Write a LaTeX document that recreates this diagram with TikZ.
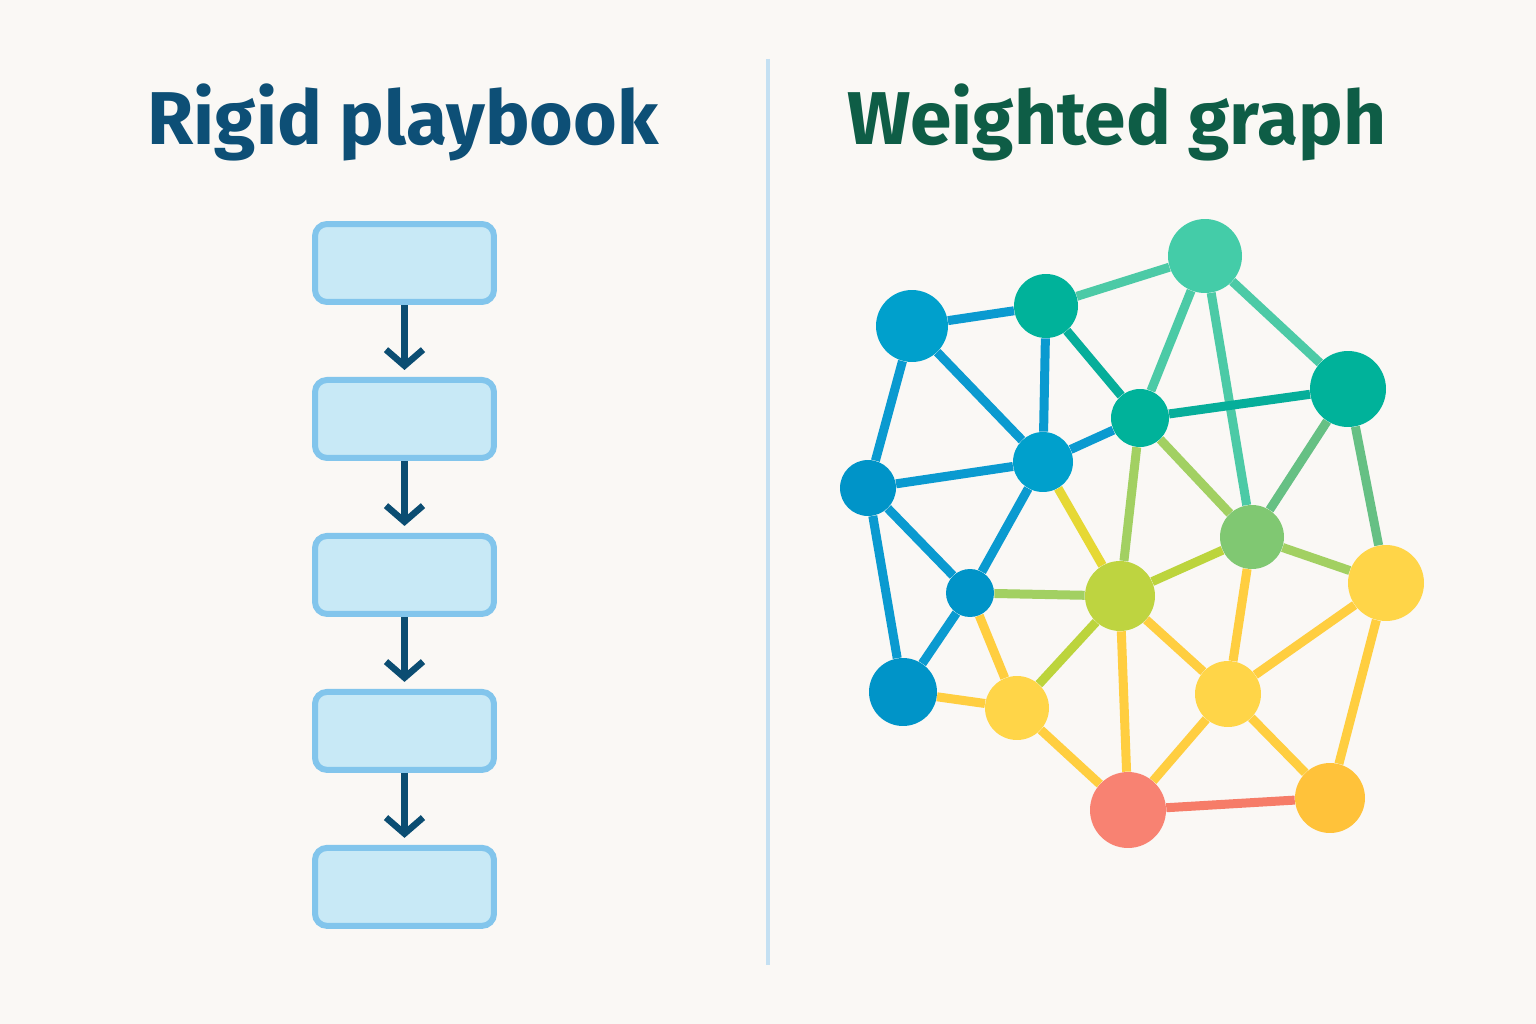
\documentclass[tikz,border=0pt]{standalone}
\usepackage{fontspec}
\setsansfont{Fira Sans}
\usetikzlibrary{positioning,arrows.meta}
\definecolor{bg}{HTML}{FAF8F5}
\definecolor{boxfill}{HTML}{C8E9F6}
\definecolor{boxline}{HTML}{82C5EC}
\definecolor{arrowblue}{HTML}{0B4D72}
\definecolor{divider}{HTML}{C4E0F2}
\definecolor{titleblue}{HTML}{0D4F76}
\definecolor{titlegreen}{HTML}{0E5D46}
% node fills
\definecolor{nblue}{HTML}{00A0CC}
\definecolor{ndblue}{HTML}{0094C8}
\definecolor{nteal}{HTML}{00B29A}
\definecolor{nmint}{HTML}{44CCA8}
\definecolor{ngreen}{HTML}{80C872}
\definecolor{nlime}{HTML}{BED440}
\definecolor{nyellow}{HTML}{FFD548}
\definecolor{norange}{HTML}{FFC23A}
\definecolor{nred}{HTML}{F88272}
% edge colours
\definecolor{lblue}{HTML}{0A9AD0}
\definecolor{lteal}{HTML}{06AE9A}
\definecolor{lmint}{HTML}{4CCAA6}
\definecolor{lgreen}{HTML}{66C084}
\definecolor{llime}{HTML}{A2D062}
\definecolor{lolive}{HTML}{BCD43C}
\definecolor{lgold}{HTML}{E6D834}
\definecolor{lyellow}{HTML}{FFCE40}
\definecolor{lred}{HTML}{F67C68}
\pgfdeclarelayer{back}
\pgfdeclarelayer{links}
\pgfsetlayers{back,links,main}
\tikzset{%
  title/.style={anchor=base, font=\sffamily\bfseries\fontsize{42.6}{51}\selectfont},% panel heading
  stepbox/.style={draw=boxline, fill=boxfill, rectangle, rounded corners=2.4mm,
    line width=1.2mm, minimum width=35.8mm, minimum height=15.6mm},% playbook step
  flow/.style={draw=arrowblue, line width=1.3mm,
    -{Straight Barb[length=3.2mm,width=7.4mm]}, shorten >=1.4mm},% step to step
  vertex/.style={circle, inner sep=0pt, minimum size=#1},% graph node
  link/.style={line width=1.8mm}% weighted edge
}
\begin{document}
\begin{tikzpicture}[x=0.02cm, y=-0.02cm]
\begin{pgfonlayer}{back}
\fill[bg] (0,0) rectangle (1536,1024);
\end{pgfonlayer}
\useasboundingbox (0,0) rectangle (1536,1024);

\node[title, text=titleblue] (t1) at (403,145) {Rigid playbook};
\node[title, text=titlegreen] (t2) at (1117,145) {Weighted graph};

\coordinate (top) at (768,59);
\coordinate (bot) at (768,965);
\draw[divider, line width=0.7mm] (top) -- (bot);

% rigid playbook
\node[stepbox] (s1) at (404.5,263) {};
\node[stepbox, below=14.4mm of s1] (s2) {};
\node[stepbox, below=14.4mm of s2] (s3) {};
\node[stepbox, below=14.4mm of s3] (s4) {};
\node[stepbox, below=14.4mm of s4] (s5) {};
\draw[flow] (s1) -- (s2);
\draw[flow] (s2) -- (s3);
\draw[flow] (s3) -- (s4);
\draw[flow] (s4) -- (s5);

% weighted graph
\node[vertex=14.4mm, fill=nblue] (a) at (912,326) {};
\node[vertex=12.8mm, fill=nteal] (b) at (1046,306) {};
\node[vertex=14.8mm, fill=nmint] (c) at (1205,256) {};
\node[vertex=11.6mm, fill=nteal] (d) at (1140,418) {};
\node[vertex=15.2mm, fill=nteal] (e) at (1348,389) {};
\node[vertex=12.0mm, fill=nblue] (f) at (1043,462) {};
\node[vertex=11.2mm, fill=ndblue] (g) at (868,488) {};
\node[vertex=12.8mm, fill=ngreen] (h) at (1252,537) {};
\node[vertex=14.0mm, fill=nlime] (i) at (1120,596) {};
\node[vertex=9.6mm, fill=ndblue] (j) at (970,593) {};
\node[vertex=15.2mm, fill=nyellow] (k) at (1386,583) {};
\node[vertex=13.6mm, fill=ndblue] (l) at (903,692) {};
\node[vertex=12.8mm, fill=nyellow] (m) at (1017,708) {};
\node[vertex=13.2mm, fill=nyellow] (n) at (1228,694) {};
\node[vertex=15.2mm, fill=nred] (o) at (1128,810) {};
\node[vertex=14.0mm, fill=norange] (p) at (1330,798) {};

\begin{pgfonlayer}{links}
\draw[link, lblue] (a) -- (b);
\draw[link, lmint] (b) -- (c);
\draw[link, lblue] (a) -- (g);
\draw[link, lblue] (a) -- (f);
\draw[link, lblue] (b) -- (f);
\draw[link, lteal] (b) -- (d);
\draw[link, lmint] (c) -- (d);
\draw[link, lmint] (c) -- (h);
\draw[link, lmint] (c) -- (e);
\draw[link, lteal] (d) -- (e);
\draw[link, lblue] (d) -- (f);
\draw[link, lblue] (g) -- (f);
\draw[link, llime] (d) -- (i);
\draw[link, llime] (d) -- (h);
\draw[link, lgreen] (e) -- (h);
\draw[link, lgreen] (e) -- (k);
\draw[link, lblue] (f) -- (j);
\draw[link, lgold] (f) -- (i);
\draw[link, lblue] (g) -- (j);
\draw[link, lblue] (g) -- (l);
\draw[link, lblue] (j) -- (l);
\draw[link, llime] (j) -- (i);
\draw[link, lyellow] (j) -- (m);
\draw[link, lolive] (i) -- (h);
\draw[link, lolive] (i) -- (m);
\draw[link, lyellow] (i) -- (o);
\draw[link, lyellow] (i) -- (n);
\draw[link, lyellow] (h) -- (n);
\draw[link, llime] (h) -- (k);
\draw[link, lyellow] (k) -- (n);
\draw[link, lyellow] (k) -- (p);
\draw[link, lyellow] (l) -- (m);
\draw[link, lyellow] (m) -- (o);
\draw[link, lyellow] (n) -- (o);
\draw[link, lyellow] (n) -- (p);
\draw[link, lred] (o) -- (p);
\end{pgfonlayer}
\end{tikzpicture}
\end{document}
